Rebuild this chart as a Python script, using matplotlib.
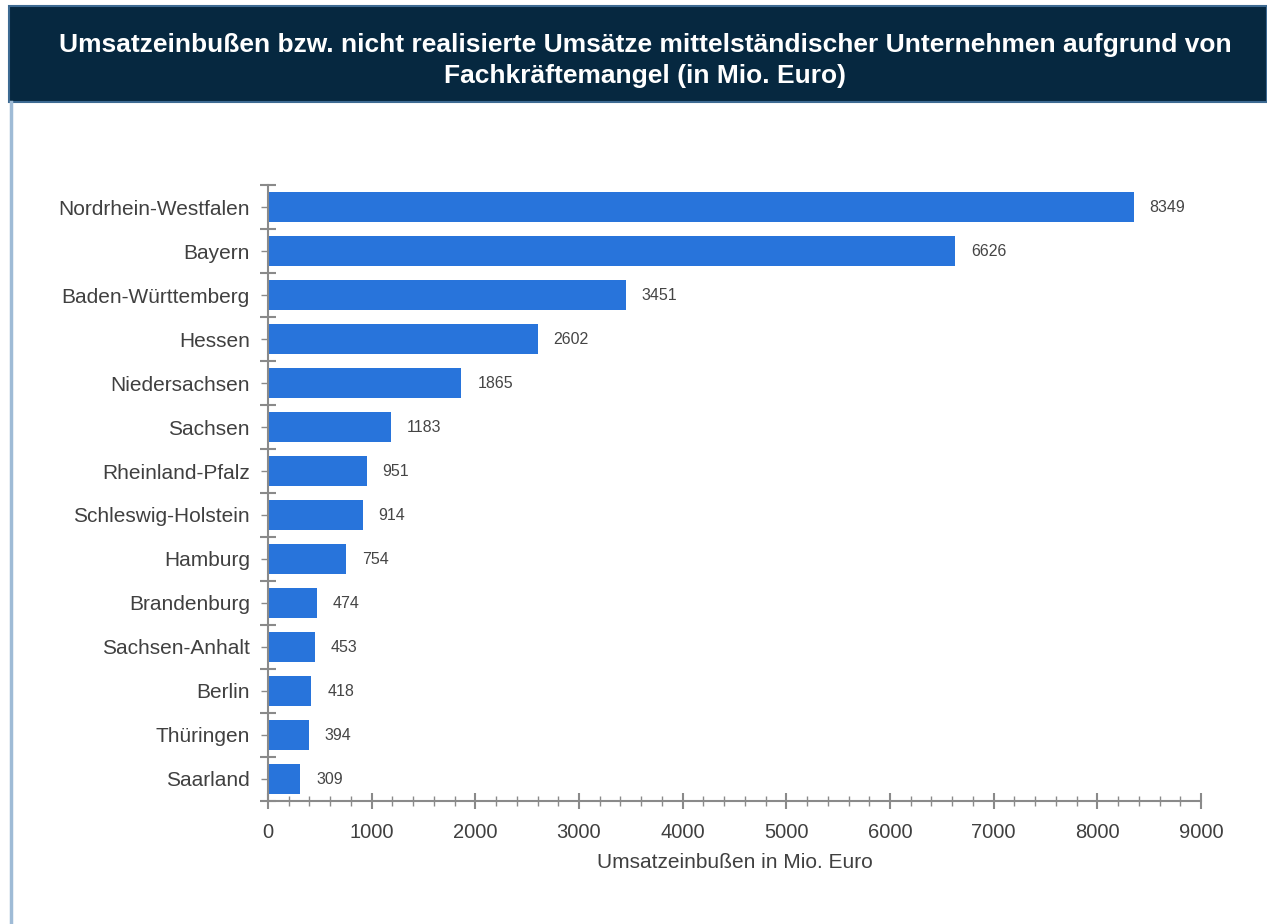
import numpy as np
import matplotlib.pyplot as plt
from matplotlib.patches import Rectangle
from matplotlib.ticker import MultipleLocator, FixedLocator

plt.rcParams['font.family'] = ['Liberation Sans', 'DejaVu Sans']

# Daten
laender = ['Nordrhein-Westfalen', 'Bayern', 'Baden-Württemberg', 'Hessen',
           'Niedersachsen', 'Sachsen', 'Rheinland-Pfalz', 'Schleswig-Holstein',
           'Hamburg', 'Brandenburg', 'Sachsen-Anhalt', 'Berlin', 'Thüringen',
           'Saarland']
werte = [8349, 6626, 3451, 2602, 1865, 1183, 951, 914, 754, 474, 453, 418, 394, 309]

titel = ('Umsatzeinbußen bzw. nicht realisierte Umsätze mittelständischer Unternehmen aufgrund von\n'
         'Fachkräftemangel (in Mio. Euro)')
xlabel = 'Umsatzeinbußen in Mio. Euro'

bar_color = '#2874DB'
axis_color = '#8a8a8a'
text_color = '#404040'

fig = plt.figure(figsize=(12.67, 9.24), dpi=100)

# Kopfzeile
fig.patches.append(Rectangle((9 / 1267, 1 - 102 / 924), 1 - 9 / 1267, 96 / 924,
                             transform=fig.transFigure, facecolor='#062840',
                             edgecolor='#3d6a92', linewidth=1.5, zorder=0))
fig.text(645 / 1267, 1 - 60.5 / 924, titel, color='white', fontsize=19, fontweight='bold',
         ha='center', va='center', linespacing=1.38)
# linker Rand
fig.add_artist(plt.Line2D([10.5 / 1267, 10.5 / 1267], [0, 1 - 102 / 924],
                          transform=fig.transFigure, color='#9fbbd6', linewidth=2.5))

ax = fig.add_axes([268 / 1267, 123 / 924, 933 / 1267, 616 / 924])
y = np.arange(len(laender))
ax.barh(y, werte, height=0.67, color=bar_color, zorder=2)
for yi, v in zip(y, werte):
    ax.annotate(str(v), (v, yi), xytext=(11.5, 0), textcoords='offset points',
                ha='left', va='center', fontsize=11.5, color='#454545')

ax.set_ylim(len(laender) - 0.5, -0.5)
ax.set_xlim(0, 9000)
ax.set_yticks(y)
ax.set_yticklabels(laender, fontsize=15, color=text_color)
ax.yaxis.set_minor_locator(FixedLocator(np.arange(-0.5, len(laender), 1)))
ax.xaxis.set_major_locator(MultipleLocator(1000))
ax.xaxis.set_minor_locator(MultipleLocator(200))
ax.tick_params(axis='x', which='major', direction='inout', length=12, width=1.5,
               color=axis_color, labelsize=14.5, labelcolor=text_color, pad=10)
ax.tick_params(axis='x', which='minor', direction='inout', length=7, width=1,
               color=axis_color)
ax.tick_params(axis='y', which='major', direction='out', length=5, width=1,
               color=axis_color, pad=8)
ax.tick_params(axis='y', which='minor', direction='inout', length=11, width=1.5,
               color=axis_color)

for s in ['top', 'right']:
    ax.spines[s].set_visible(False)
for s in ['left', 'bottom']:
    ax.spines[s].set_color(axis_color)
    ax.spines[s].set_linewidth(1.5)

ax.set_xlabel(xlabel, fontsize=15, color=text_color, labelpad=8)

plt.savefig('out.png', dpi=100)
